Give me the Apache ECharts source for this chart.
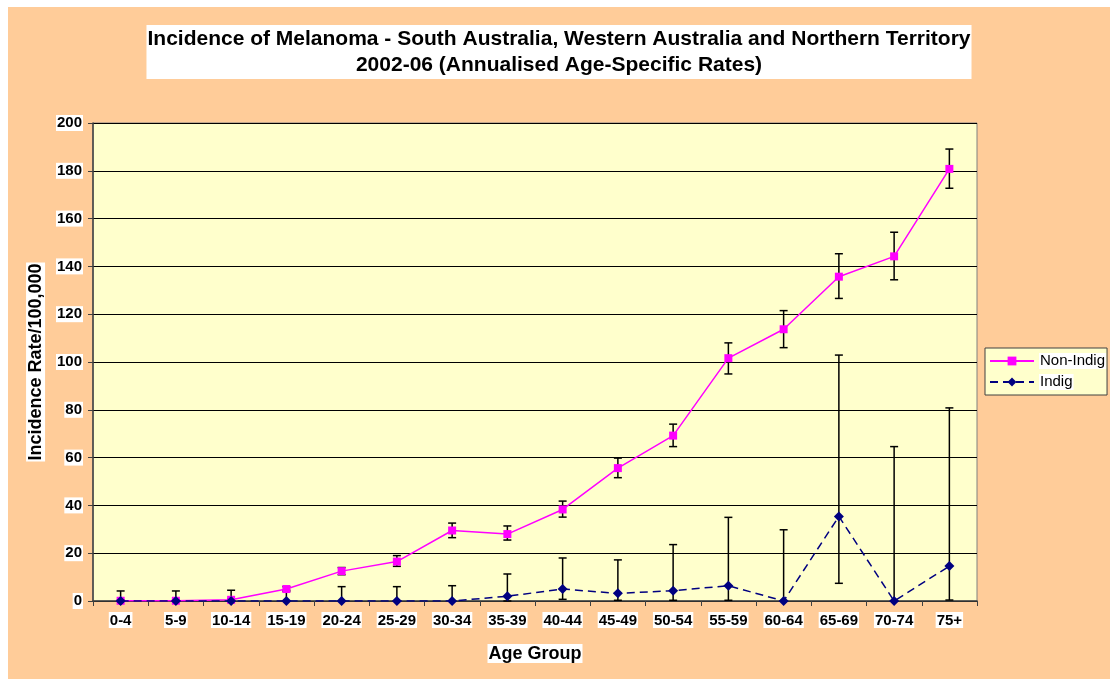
<html>
<head>
  <meta charset="utf-8" />
  <title>Incidence of Melanoma</title>
  <script type="text/javascript" src="https://cdn.jsdelivr.net/npm/echarts@6/dist/echarts.min.js"></script>
</head>
<body style="margin: 0; background: #ffffff">
  <div id="chart" style="position: absolute; left: 8px; top: 7px; width: 1102px; height: 672px; background: #FFCC99"></div>
<script type="text/javascript">
  var ageGroups = ['0-4', '5-9', '10-14', '15-19', '20-24', '25-29', '30-34', '35-39',
                   '40-44', '45-49', '50-54', '55-59', '60-64', '65-69', '70-74', '75+'];

  // Non-Indigenous rates and 95% CI
  var nonIndig     = [0.1, 0.1, 0.5, 5, 12.5, 16.5, 29.5, 28, 38.3, 55.6, 69.2, 101.6, 113.7, 135.7, 144.2, 180.8];
  var nonIndigLow  = [0, 0, 0, 4, 11, 14.5, 26.5, 25.5, 35.1, 51.6, 64.6, 95, 106, 126.6, 134.4, 172.7];
  var nonIndigHigh = [0.4, 0.4, 1, 6, 14, 19, 32.6, 31.4, 41.8, 59.8, 74, 108, 121.5, 145.3, 154.3, 189.1];

  // Indigenous rates and 95% CI
  var indig     = [0, 0, 0, 0, 0, 0, 0, 2, 5, 3.2, 4.3, 6.4, 0, 35.4, 0, 14.6];
  var indigLow  = [0, 0, 0, 0, 0, 0, 0, 0, 0.7, 0.3, 0.3, 0.3, 0, 7.4, 0, 0.4];
  var indigHigh = [4.2, 4.2, 4.5, 4.5, 6, 6, 6.4, 11.3, 18, 17.2, 23.6, 35, 29.8, 102.9, 64.6, 80.8];

  var yTicks = { min: 0, max: 200, interval: 20 };

  function errData(low, high) {
    var out = [];
    for (var i = 0; i < low.length; i++) {
      out.push([i, low[i], high[i]]);
    }
    return out;
  }

  function renderErr(params, api) {
    var lo = api.coord([api.value(0), api.value(1)]);
    var hi = api.coord([api.value(0), api.value(2)]);
    var w = 4;
    var st = { stroke: '#000000', lineWidth: 1.5 };
    return {
      type: 'group',
      children: [
        { type: 'line', shape: { x1: hi[0], y1: hi[1], x2: lo[0], y2: lo[1] }, style: st },
        { type: 'line', shape: { x1: hi[0] - w, y1: hi[1], x2: hi[0] + w, y2: hi[1] }, style: st },
        { type: 'line', shape: { x1: lo[0] - w, y1: lo[1], x2: lo[0] + w, y2: lo[1] }, style: st }
      ]
    };
  }

  var labelBox = { backgroundColor: '#ffffff', padding: [1, 1, 0, 1] };

  var myChart = echarts.init(document.getElementById('chart'));
  var option = {
    animation: false,
    textStyle: { fontFamily: 'Liberation Sans, Arial, sans-serif' },
    title: {
      text: 'Incidence of Melanoma - South Australia, Western Australia and Northern Territory\n2002-06 (Annualised Age-Specific Rates)',
      left: 'center',
      top: 18,
      backgroundColor: '#ffffff',
      padding: [1, 1, 1, 1],
      textStyle: { fontSize: 21, fontWeight: 'bold', color: '#000000', lineHeight: 26 }
    },
    legend: {
      orient: 'vertical',
      left: 977,
      top: 341,
      itemWidth: 44,
      itemHeight: 11,
      itemGap: 5,
      padding: [5, 1, 5, 4],
      backgroundColor: '#FFFFCC',
      borderColor: '#404040',
      borderWidth: 1,
      borderRadius: 0,
      data: ['Non-Indig', 'Indig'],
      textStyle: { fontSize: 15, color: '#000000', backgroundColor: '#ffffff', padding: [1, 1, 0, 1] }
    },
    grid: {
      left: 85, top: 116, width: 884, height: 478,
      show: true, backgroundColor: '#FFFFCC', borderColor: '#808080', borderWidth: 1
    },
    xAxis: {
      type: 'category',
      data: ageGroups,
      boundaryGap: true,
      name: 'Age Group',
      nameLocation: 'middle',
      nameGap: 43,
      nameTextStyle: Object.assign({ fontSize: 18, fontWeight: 'bold', color: '#000000' }, labelBox),
      axisLine: { lineStyle: { color: '#404040', width: 1.5 } },
      axisTick: { show: true, length: 5, lineStyle: { color: '#404040' } },
      axisLabel: Object.assign({ fontSize: 15, fontWeight: 'bold', color: '#000000', margin: 11, interval: 0 }, labelBox)
    },
    yAxis: {
      type: 'value',
      min: yTicks.min,
      max: yTicks.max,
      interval: yTicks.interval,
      name: 'Incidence Rate/100,000',
      nameLocation: 'middle',
      nameGap: 44,
      nameTextStyle: Object.assign({ fontSize: 18, fontWeight: 'bold', color: '#000000' }, labelBox),
      axisLine: { show: true, lineStyle: { color: '#404040', width: 1.5 } },
      axisTick: { show: true, length: 5, lineStyle: { color: '#404040' } },
      splitLine: { show: true, lineStyle: { color: '#000000', width: 1 } },
      axisLabel: Object.assign({ fontSize: 15, fontWeight: 'bold', color: '#000000', margin: 10 }, labelBox)
    },
    series: [
      {
        name: 'Non-Indig err',
        type: 'custom',
        renderItem: renderErr,
        data: errData(nonIndigLow, nonIndigHigh),
        encode: { x: 0, y: [1, 2] },
        z: 2,
        silent: true
      },
      {
        name: 'Indig err',
        type: 'custom',
        renderItem: renderErr,
        data: errData(indigLow, indigHigh),
        encode: { x: 0, y: [1, 2] },
        z: 2,
        silent: true
      },
      {
        name: 'Non-Indig',
        type: 'line',
        data: nonIndig,
        symbol: 'rect',
        symbolSize: 8,
        z: 4,
        lineStyle: { color: '#FF00FF', width: 1.5 },
        itemStyle: { color: '#FF00FF', borderWidth: 0 }
      },
      {
        name: 'Indig',
        type: 'line',
        data: indig,
        symbol: 'diamond',
        symbolSize: 10,
        z: 5,
        lineStyle: { color: '#000080', width: 1.5, type: [8, 5] },
        itemStyle: { color: '#000080', borderWidth: 0 }
      }
    ]
  };
  myChart.setOption(option);
</script>
</body>
</html>
